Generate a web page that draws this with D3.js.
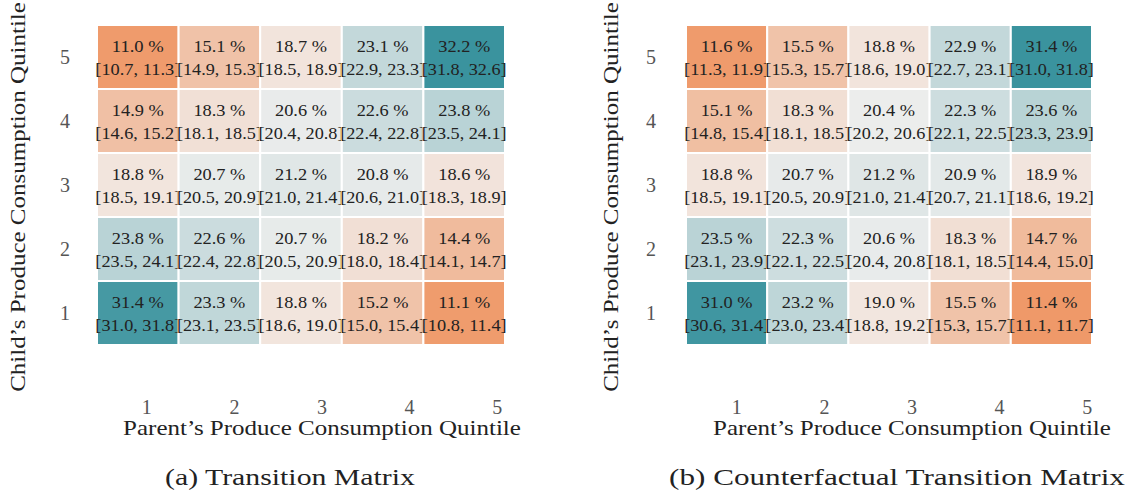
<!DOCTYPE html>
<html>
<head>
<meta charset="utf-8">
<script src="https://cdn.jsdelivr.net/npm/d3@7"></script>
<style>
  html, body { margin: 0; padding: 0; background: #fff; }
  svg text { font-family: "Liberation Serif", "DejaVu Serif", serif; }
</style>
</head>
<body>
<svg id="chart" width="1132" height="498"></svg>
<script>
// Quintile labels (rows listed top-to-bottom: child quintile 5 .. 1)
const quintiles = ["1", "2", "3", "4", "5"];
const childRows = ["5", "4", "3", "2", "1"];

// (a) Transition matrix: share (%) and 95% interval, rows = child 5..1, cols = parent 1..5
const transShare = [
  [11.0, 15.1, 18.7, 23.1, 32.2],
  [14.9, 18.3, 20.6, 22.6, 23.8],
  [18.8, 20.7, 21.2, 20.8, 18.6],
  [23.8, 22.6, 20.7, 18.2, 14.4],
  [31.4, 23.3, 18.8, 15.2, 11.1]
];
const transLow = [
  [10.7, 14.9, 18.5, 22.9, 31.8],
  [14.6, 18.1, 20.4, 22.4, 23.5],
  [18.5, 20.5, 21.0, 20.6, 18.3],
  [23.5, 22.4, 20.5, 18.0, 14.1],
  [31.0, 23.1, 18.6, 15.0, 10.8]
];
const transHigh = [
  [11.3, 15.3, 18.9, 23.3, 32.6],
  [15.2, 18.5, 20.8, 22.8, 24.1],
  [19.1, 20.9, 21.4, 21.0, 18.9],
  [24.1, 22.8, 20.9, 18.4, 14.7],
  [31.8, 23.5, 19.0, 15.4, 11.4]
];

// (b) Counterfactual transition matrix
const cfShare = [
  [11.6, 15.5, 18.8, 22.9, 31.4],
  [15.1, 18.3, 20.4, 22.3, 23.6],
  [18.8, 20.7, 21.2, 20.9, 18.9],
  [23.5, 22.3, 20.6, 18.3, 14.7],
  [31.0, 23.2, 19.0, 15.5, 11.4]
];
const cfLow = [
  [11.3, 15.3, 18.6, 22.7, 31.0],
  [14.8, 18.1, 20.2, 22.1, 23.3],
  [18.5, 20.5, 21.0, 20.7, 18.6],
  [23.1, 22.1, 20.4, 18.1, 14.4],
  [30.6, 23.0, 18.8, 15.3, 11.1]
];
const cfHigh = [
  [11.9, 15.7, 19.0, 23.1, 31.8],
  [15.4, 18.5, 20.6, 22.5, 23.9],
  [19.1, 20.9, 21.4, 21.1, 19.2],
  [23.9, 22.5, 20.8, 18.5, 15.0],
  [31.4, 23.4, 19.2, 15.7, 11.7]
];

const xLabel = "Parent\u2019s Produce Consumption Quintile";
const yLabel = "Child\u2019s Produce Consumption Quintile";
const captions = ["(a) Transition Matrix", "(b) Counterfactual Transition Matrix"];

const svg = d3.select("#chart");

// Diverging colour map centred on an even 20 % share
const CENTER = 20;
const colLow = "#ee7d3d", colMid = "#f2f0ef", colHigh = "#3a939e";

// Place a text at (cx, cy), optionally rotated, stretched horizontally
// either by a fixed factor or to a target run length.
function place(sel, cx, cy, opt) {
  sel.each(function (d) {
    const node = this;
    const px = typeof cx === "function" ? cx(d) : cx;
    const py = typeof cy === "function" ? cy(d) : cy;
    let sx = opt.scale || 1;
    if (opt.width) sx = opt.width / node.getComputedTextLength();
    const rot = opt.rotate ? ` rotate(${opt.rotate})` : "";
    d3.select(node)
      .attr("x", 0).attr("y", 0)
      .attr("transform", `translate(${px},${py})${rot} scale(${sx},1)`);
  });
}

function drawPanel(opts) {
  const { share, low, high, x0, x1, tickX0, tickX1, yTickX, yLabelX, caption, captionX, captionLen } = opts;
  const top = 25, bottom = 345;
  const g = svg.append("g");

  const x = d3.scaleBand().domain(quintiles).range([x0, x1]);
  const y = d3.scaleBand().domain(childRows).range([top, bottom]);
  const xTicks = d3.scaleBand().domain(quintiles).range([tickX0, tickX1]);

  const flat = share.flat();
  const r = d3.max(flat, v => Math.abs(v - CENTER));
  const color = d3.scaleLinear()
    .domain([CENTER - r, CENTER, CENTER + r])
    .range([colLow, colMid, colHigh])
    .interpolate(d3.interpolateRgb)
    .clamp(true);

  const cells = [];
  childRows.forEach((row, i) => {
    quintiles.forEach((col, j) => {
      cells.push({ row, col, v: share[i][j], lo: low[i][j], hi: high[i][j] });
    });
  });

  const cx = d => x(d.col) + x.bandwidth() / 2;
  const cy = d => y(d.row) + y.bandwidth() / 2;

  const cell = g.selectAll("g.cell").data(cells).join("g").attr("class", "cell");
  cell.append("rect")
    .attr("x", d => x(d.col))
    .attr("y", d => y(d.row))
    .attr("width", x.bandwidth())
    .attr("height", y.bandwidth())
    .attr("fill", d => color(d.v))
    .attr("stroke", "#fff")
    .attr("stroke-width", 2);

  cell.append("text")
    .attr("text-anchor", "middle")
    .attr("dominant-baseline", "central")
    .attr("font-size", 17)
    .attr("fill", "#222")
    .text(d => d.v.toFixed(1) + " %")
    .call(place, cx, d => cy(d) - 11, { width: 52 });

  cell.append("text")
    .attr("text-anchor", "middle")
    .attr("dominant-baseline", "central")
    .attr("font-size", 17)
    .attr("fill", "#222")
    .text(d => "[" + d.lo.toFixed(1) + ", " + d.hi.toFixed(1) + "]")
    .call(place, cx, d => cy(d) + 12, { width: 85 });

  // y tick labels
  g.selectAll("text.ytick").data(childRows).join("text")
    .attr("class", "ytick")
    .attr("text-anchor", "middle")
    .attr("dominant-baseline", "central")
    .attr("font-size", 20)
    .attr("fill", "#555")
    .text(d => d)
    .call(place, yTickX, d => y(d) + y.bandwidth() / 2, { scale: 1 });

  // x tick labels
  g.selectAll("text.xtick").data(quintiles).join("text")
    .attr("class", "xtick")
    .attr("text-anchor", "middle")
    .attr("dominant-baseline", "central")
    .attr("font-size", 20)
    .attr("fill", "#555")
    .text(d => d)
    .call(place, d => xTicks(d) + xTicks.bandwidth() / 2, 407, { scale: 1 });

  // axis titles
  g.append("text")
    .attr("text-anchor", "middle")
    .attr("dominant-baseline", "central")
    .attr("font-size", 21)
    .attr("fill", "#222")
    .text(xLabel)
    .call(place, (tickX0 + tickX1) / 2, 428, { width: 398 });

  g.append("text")
    .attr("text-anchor", "middle")
    .attr("dominant-baseline", "central")
    .attr("font-size", 22)
    .attr("fill", "#222")
    .text(yLabel)
    .call(place, yLabelX, 197, { width: 390, rotate: -90 });

  // panel caption
  g.append("text")
    .attr("text-anchor", "middle")
    .attr("dominant-baseline", "central")
    .attr("font-size", 23)
    .attr("fill", "#222")
    .text(caption)
    .call(place, captionX, 477, { width: captionLen });
}

drawPanel({
  share: transShare, low: transLow, high: transHigh,
  x0: 97, x1: 505, tickX0: 103, tickX1: 541,
  yTickX: 65, yLabelX: 18,
  caption: captions[0], captionX: 290, captionLen: 250
});

drawPanel({
  share: cfShare, low: cfLow, high: cfHigh,
  x0: 686, x1: 1092, tickX0: 693, tickX1: 1131,
  yTickX: 651, yLabelX: 611,
  caption: captions[1], captionX: 897, captionLen: 456
});
</script>
</body>
</html>
